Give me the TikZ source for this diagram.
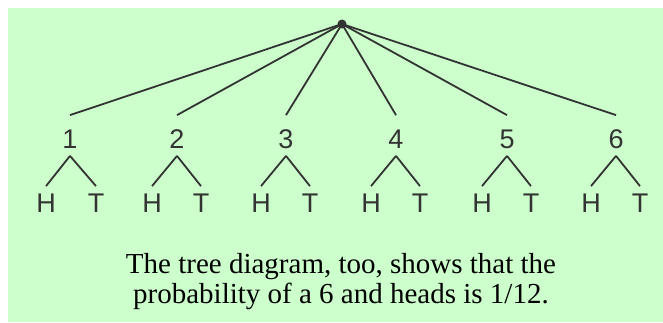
\documentclass[tikz,border=0pt]{standalone}
\usepackage{fontspec}
\setmainfont{Liberation Serif}
\newfontfamily\labelfont{Liberation Sans}
\definecolor{bgcol}{HTML}{CCFFCC}
\definecolor{inkcol}{HTML}{333333}

\begin{document}
\begin{tikzpicture}[x=1pt, y=-1pt, line width=1.8pt, color=inkcol,
    digit/.style={font=\labelfont\fontsize{27}{27}\selectfont, inner sep=0pt,
      text height=32pt, text depth=7pt},
    leaf/.style={font=\labelfont\fontsize{27}{27}\selectfont, inner sep=0pt,
      text height=25pt, text depth=0pt}]

    \useasboundingbox (0, 0) rectangle (663, 322);
    \fill [bgcol] (8, 8) rectangle (663, 322);

    \node [circle, fill=inkcol, inner sep=0pt, minimum size=9pt] (r) at (342, 24) {};

    \node [digit] (a) at (70, 135.5) {1};
    \node [digit] (b) at (177, 135.5) {2};
    \node [digit] (c) at (286, 135.5) {3};
    \node [digit] (d) at (396, 135.5) {4};
    \node [digit] (e) at (507, 135.5) {5};
    \node [digit] (f) at (616, 135.5) {6};

    \node [leaf] (ah) at (46, 199.5) {H};
    \node [leaf] (at) at (96, 199.5) {T};
    \node [leaf] (bh) at (152, 199.5) {H};
    \node [leaf] (bt) at (201, 199.5) {T};
    \node [leaf] (ch) at (261, 199.5) {H};
    \node [leaf] (ct) at (310, 199.5) {T};
    \node [leaf] (dh) at (371, 199.5) {H};
    \node [leaf] (dt) at (420, 199.5) {T};
    \node [leaf] (eh) at (482, 199.5) {H};
    \node [leaf] (et) at (531, 199.5) {T};
    \node [leaf] (fh) at (591, 199.5) {H};
    \node [leaf] (ft) at (640, 199.5) {T};

    \node [text=black, align=center, font=\fontsize{29}{30}\selectfont] (g) at (341, 282)
      {The tree diagram, too, shows that the\\probability of a 6 and heads is 1/12.};

    \draw (r.center) to (a.north);
    \draw (r.center) to (b.north);
    \draw (r.center) to (c.north);
    \draw (r.center) to (d.north);
    \draw (r.center) to (e.north);
    \draw (r.center) to (f.north);

    \draw (a.south) to (ah.north);
    \draw (a.south) to (at.north);
    \draw (b.south) to (bh.north);
    \draw (b.south) to (bt.north);
    \draw (c.south) to (ch.north);
    \draw (c.south) to (ct.north);
    \draw (d.south) to (dh.north);
    \draw (d.south) to (dt.north);
    \draw (e.south) to (eh.north);
    \draw (e.south) to (et.north);
    \draw (f.south) to (fh.north);
    \draw (f.south) to (ft.north);

  \end{tikzpicture}
\end{document}
